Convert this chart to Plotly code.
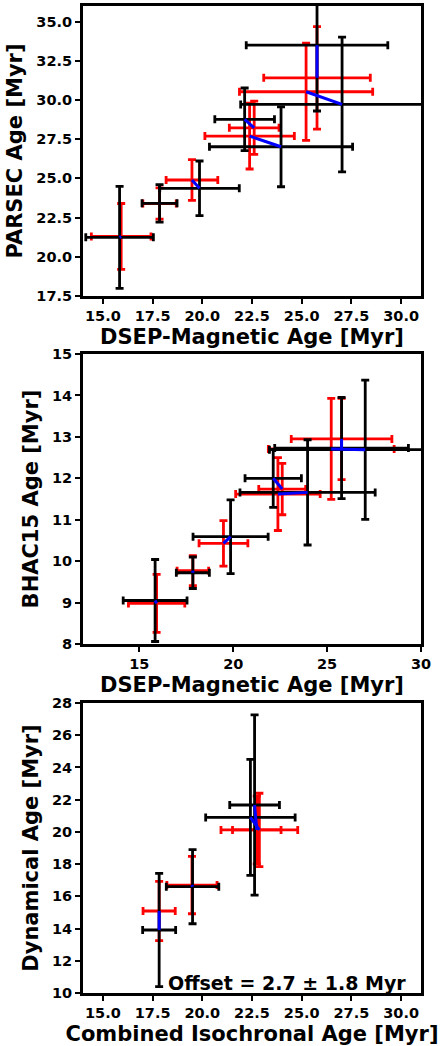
import plotly.graph_objects as go

# ---------------- data ----------------
# Panels 1 & 2 share the DSEP-Magnetic x values
black_x = [15.84, 17.85, 19.86, 22.13, 23.96, 27.03, 25.77]
black_xerr = [1.70, 0.88, 2.00, 1.50, 3.60, 5.10, 3.56]
red_x = [15.92, 17.85, 19.48, 22.61, 22.38, 25.22, 25.77]
red_xerr = [1.50, 0.84, 1.30, 1.25, 2.25, 3.35, 2.68]

# Panel 1: PARSEC
black_y1 = [21.24, 23.41, 24.37, 28.77, 27.02, 29.72, 33.50]
black_yerr1 = [3.25, 1.20, 1.74, 2.00, 2.55, 4.30, 4.20]
red_y1 = [21.30, 23.40, 24.90, 28.23, 27.70, 30.53, 31.42]
red_yerr1 = [2.10, 1.00, 1.30, 1.70, 2.10, 3.10, 3.27]

# Panel 2: BHAC15
black_y2 = [9.05, 9.72, 10.59, 12.00, 11.66, 12.69, 12.73]
black_yerr2 = [0.99, 0.38, 0.89, 0.70, 1.27, 1.68, 1.22]
red_y2 = [8.98, 9.77, 10.43, 11.74, 11.62, 12.71, 12.95]
red_yerr2 = [0.70, 0.36, 0.55, 0.62, 0.88, 1.22, 0.98]

# Panel 3: Combined isochronal vs dynamical
black_x3 = [17.83, 19.51, 22.42, 22.63]
black_xerr3 = [0.83, 1.32, 2.25, 1.25]
black_y3 = [13.91, 16.60, 20.90, 21.67]
black_yerr3 = [3.52, 2.30, 3.60, 5.60]
red_x3 = [17.83, 19.48, 22.87, 22.74]
red_xerr3 = [0.81, 1.26, 1.93, 1.22]
red_y3 = [15.09, 16.70, 20.12, 20.12]
red_yerr3 = [1.84, 1.78, 2.28, 2.10]

offset_text = "Offset = 2.7 ± 1.8 Myr"

# ---------------- figure ----------------
FONT = "DejaVu Sans"
fig = go.Figure()


def add_panel(n, bx, bxe, by, bye, rx, rxe, ry, rye):
    xa = "x" if n == 1 else f"x{n}"
    ya = "y" if n == 1 else f"y{n}"
    for (xs, xe, ys, ye, col) in [(rx, rxe, ry, rye, "#ff0000"),
                                  (bx, bxe, by, bye, "#000000")]:
        fig.add_trace(go.Scatter(
            x=xs, y=ys, mode="markers", xaxis=xa, yaxis=ya,
            marker=dict(size=1, color=col, opacity=0),
            error_x=dict(type="data", array=xe, color=col, thickness=2.8, width=4),
            error_y=dict(type="data", array=ye, color=col, thickness=2.8, width=4),
            showlegend=False, hoverinfo="skip"))
    lx, ly = [], []
    for a, b, c, d in zip(bx, by, rx, ry):
        lx += [a, c, None]
        ly += [b, d, None]
    fig.add_trace(go.Scatter(x=lx, y=ly, mode="lines", xaxis=xa, yaxis=ya,
                             line=dict(color="#0000ff", width=3),
                             showlegend=False, hoverinfo="skip"))


add_panel(1, black_x, black_xerr, black_y1, black_yerr1, red_x, red_xerr, red_y1, red_yerr1)
add_panel(2, black_x, black_xerr, black_y2, black_yerr2, red_x, red_xerr, red_y2, red_yerr2)
add_panel(3, black_x3, black_xerr3, black_y3, black_yerr3, red_x3, red_xerr3, red_y3, red_yerr3)

tickfont = dict(family=FONT, size=14.5, color="black", weight="bold")
titlefont = dict(family=FONT, size=21, color="black", weight="bold")
common = dict(showline=True, linewidth=3, linecolor="black", mirror=True,
              ticks="outside", ticklen=5, tickwidth=2, tickcolor="black",
              showgrid=False, zeroline=False, tickfont=tickfont, automargin=False)

doms = [[0.7062, 1.0], [0.3536, 0.6474], [0.0, 0.2938]]

fig.update_layout(
    width=441, height=1046,
    margin=dict(l=83, r=20, t=6, b=53, autoexpand=False),
    plot_bgcolor="white", paper_bgcolor="white",
    xaxis=dict(range=[14, 31], tickvals=[15, 17.5, 20, 22.5, 25, 27.5, 30],
               ticktext=["15.0", "17.5", "20.0", "22.5", "25.0", "27.5", "30.0"],
               anchor="y", domain=[0, 1],
               title=dict(text="DSEP-Magnetic Age [Myr]", font=titlefont, standoff=6), **common),
    yaxis=dict(range=[17.5, 36], tickvals=[17.5, 20, 22.5, 25, 27.5, 30, 32.5, 35],
               ticktext=["17.5", "20.0", "22.5", "25.0", "27.5", "30.0", "32.5", "35.0"],
               anchor="x", domain=doms[0],
               title=dict(text="PARSEC Age [Myr]", font=titlefont, standoff=8), **common),
    xaxis2=dict(range=[12, 30], tickvals=[15, 20, 25, 30], anchor="y2", domain=[0, 1],
                title=dict(text="DSEP-Magnetic Age [Myr]", font=titlefont, standoff=6), **common),
    yaxis2=dict(range=[8, 15], tickvals=list(range(8, 16)), anchor="x2", domain=doms[1],
                title=dict(text="BHAC15 Age [Myr]", font=titlefont, standoff=8), **common),
    xaxis3=dict(range=[14, 31], tickvals=[15, 17.5, 20, 22.5, 25, 27.5, 30],
                ticktext=["15.0", "17.5", "20.0", "22.5", "25.0", "27.5", "30.0"],
                anchor="y3", domain=[0, 1],
                title=dict(text="Combined Isochronal Age [Myr]", font=titlefont, standoff=6), **common),
    yaxis3=dict(range=[10, 28], tickvals=list(range(10, 29, 2)), anchor="x3", domain=doms[2],
                title=dict(text="Dynamical Age [Myr]", font=titlefont, standoff=8), **common),
)

fig.add_annotation(text=offset_text, xref="x3 domain", yref="y3 domain",
                   x=0.963, y=0.034, xanchor="right", yanchor="middle", showarrow=False,
                   font=dict(family=FONT, size=19, color="black", weight="bold"))

fig.write_html("out.html", config={"displayModeBar": False},
               post_script="document.body.style.margin='0';")
